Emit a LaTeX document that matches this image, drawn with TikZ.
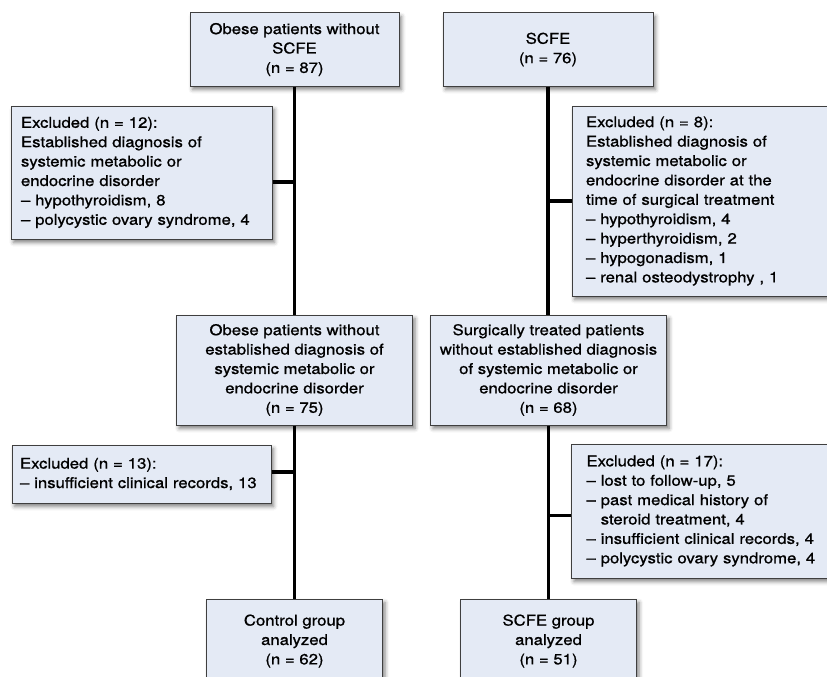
\documentclass[tikz,border=0pt]{standalone}
\usepackage{fontspec}
\newfontfamily\chartfont{TeX Gyre Heros}[FakeStretch=1.13, FakeBold=0.9]
\usetikzlibrary{positioning,shadows.blur}

\definecolor{boxblue}{HTML}{E4EAF5}
\definecolor{boxedge}{HTML}{3F3F3F}

\begin{document}
\begin{tikzpicture}[x=1pt, y=1pt, on grid,
    box/.style={draw=boxedge, line width=1pt, fill=boxblue,
      blur shadow={shadow xshift=2.5pt, shadow yshift=-3.5pt, shadow blur radius=4pt, shadow opacity=50},
      font=\chartfont\fontsize{14.8}{19.4}\selectfont, inner ysep=0pt},
    mainbox/.style={box, align=center, inner xsep=2pt},
    exclbox/.style={box, align=left},
    link/.style={line width=3.5pt}]
    \useasboundingbox (0,0) rectangle (827,-677);
    \clip (0,0) rectangle (827,-677);
    % first row
    \node[mainbox, minimum width=209pt, minimum height=73pt] (obese) at (294.5,-49.5)
        {Obese patients without\\SCFE\\(n = 87)};
    \node[mainbox, minimum width=210pt, minimum height=73pt] (scfe) [right=253.5pt of obese]
        {SCFE\\(n = 76)};
    \node[exclbox, inner xsep=10pt, text width=241pt, minimum height=133pt] (excl_12) [below left=123pt and 153pt of obese]
        {Excluded (n = 12):\\Established diagnosis of\\systemic metabolic or\\endocrine disorder\\– hypothyroidism, 8\\– polycystic ovary syndrome, 4};
    \node[exclbox, inner xsep=14pt, text width=242pt, minimum height=190pt] (excl_8) [below right=151.5pt and 159pt of scfe]
        {Excluded (n = 8):\\Established diagnosis of\\systemic metabolic or\\endocrine disorder at the\\time of surgical treatment\\– hypothyroidism, 4\\– hyperthyroidism, 2\\– hypogonadism, 1\\– renal osteodystrophy , 1};
    % second row
    \node[mainbox, minimum width=236pt, minimum height=110pt] (obese_ok) [below=320.5pt of obese]
        {Obese patients without\\established diagnosis of\\systemic metabolic or\\endocrine disorder\\(n = 75)};
    \node[mainbox, minimum width=236pt, minimum height=110pt] (scfe_ok) [right=254pt of obese_ok]
        {Surgically treated patients\\without established diagnosis\\of systemic metabolic or\\endocrine disorder\\(n = 68)};
    \node[exclbox, inner xsep=8pt, text width=243pt, minimum height=58pt] (excl_13) [below left=104pt and 153pt of obese_ok]
        {Excluded (n = 13):\\– insufficient clinical records, 13};
    \node[exclbox, inner xsep=15pt, text width=240pt, minimum height=134pt] (excl_17) [below right=141pt and 158pt of scfe_ok]
        {Excluded (n = 17):\\– lost to follow-up, 5\\– past medical history of\\\hphantom{– }steroid treatment, 4\\– insufficient clinical records, 4\\– polycystic ovary syndrome, 4};
    % last row
    \node[mainbox, minimum width=176pt, minimum height=84pt] (control) [below=271pt of obese_ok]
        {Control group\\analyzed\\(n = 62)};
    \node[mainbox, minimum width=176pt, minimum height=84pt] (scfe_group) [right=254pt of control]
        {SCFE group\\analyzed\\(n = 51)};
    % connectors
    \draw[link] (obese) -- (obese_ok);
    \draw[link] (obese_ok) -- (control);
    \draw[link] (scfe.south) -- (scfe.south |- scfe_ok.north);
    \draw[link] (scfe_ok) -- (scfe_group);
    \draw[link] ([yshift=-9.5pt]excl_12.east) -- ([yshift=-9.5pt]excl_12.east -| obese.south);
    \draw[link] (excl_8.west) -- (excl_8.west -| scfe.south);
    \draw[link] ([yshift=2pt]excl_13.east) -- ([yshift=2pt]excl_13.east -| obese_ok.south);
    \draw[link] ([yshift=-4.5pt]excl_17.west) -- ([yshift=-4.5pt]excl_17.west -| scfe_ok.south);
\end{tikzpicture}
\end{document}
